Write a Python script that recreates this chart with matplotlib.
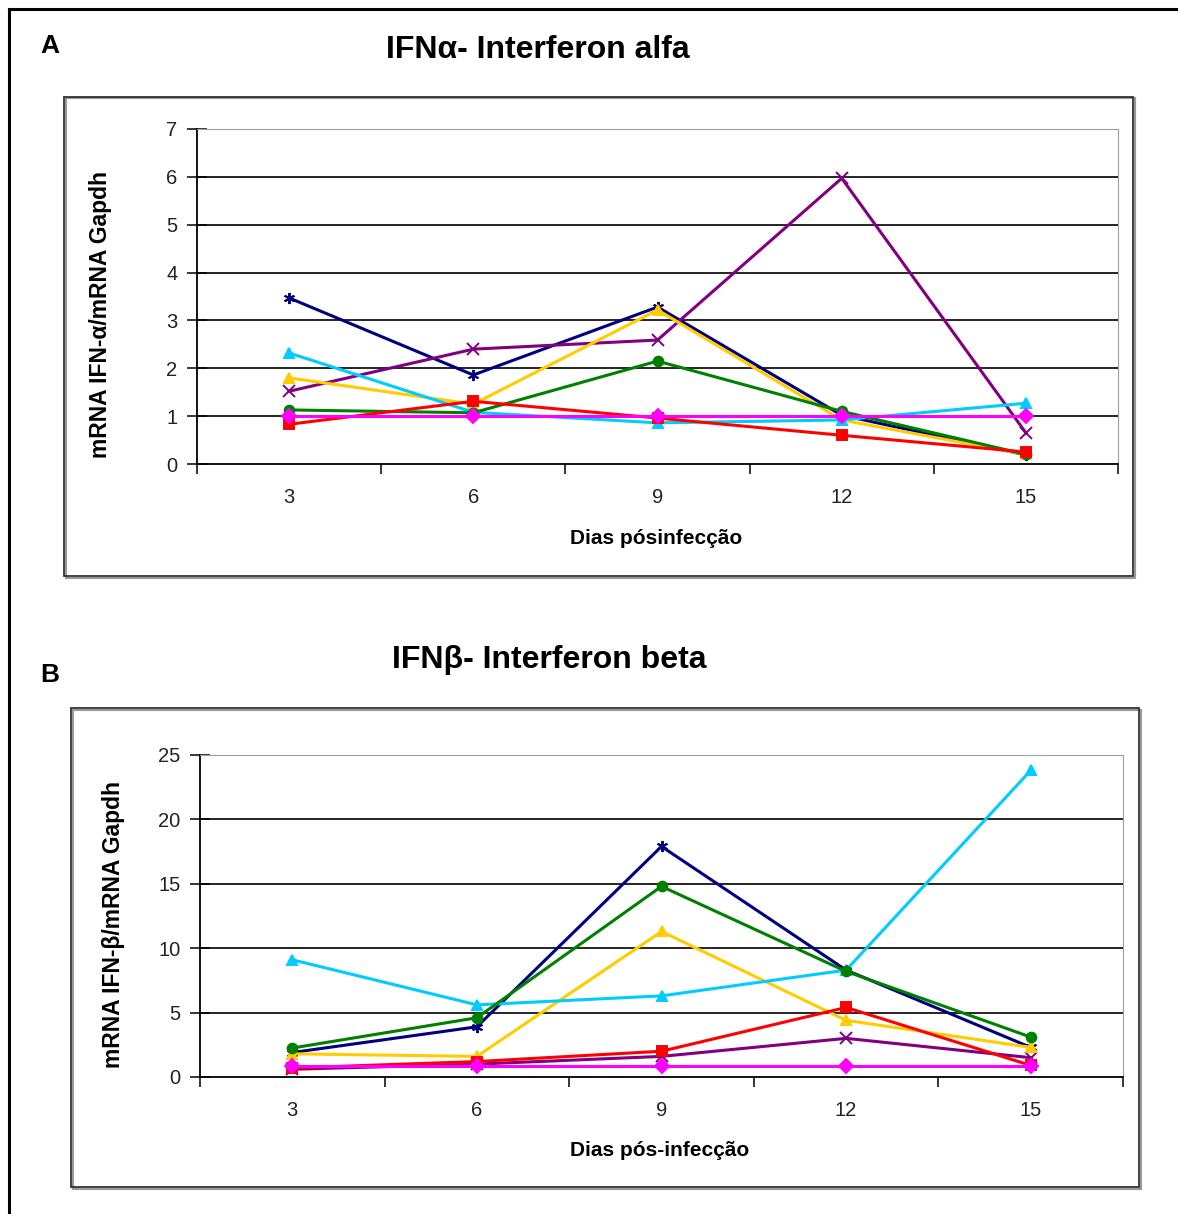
import matplotlib
matplotlib.use('Agg')
import matplotlib.pyplot as plt
from matplotlib.patches import Rectangle
from matplotlib.lines import Line2D

plt.rcParams['font.family'] = ['Liberation Sans', 'DejaVu Sans']

days = [3, 6, 9, 12, 15]
colours = ['#000080', '#800080', '#FFCC00', '#00CCFF', '#008000', '#FF0000', '#FF00FF']
markers = [(6, 2, 0), 'x', '^', '^', 'o', 's', 'D']

# IFN alfa, series in colour order
alfa_navy = [3.47, 1.86, 3.28, 1.02, 0.19]
alfa_purple = [1.52, 2.40, 2.59, 5.97, 0.65]
alfa_yellow = [1.80, 1.25, 3.22, 0.92, 0.20]
alfa_cyan = [2.32, 1.08, 0.86, 0.92, 1.27]
alfa_green = [1.13, 1.07, 2.15, 1.10, 0.20]
alfa_red = [0.83, 1.31, 0.96, 0.60, 0.25]
alfa_magenta = [1.0, 1.0, 1.0, 1.0, 1.0]

# IFN beta
beta_navy = [1.9, 3.9, 17.9, 8.3, 2.3]
beta_purple = [0.6, 1.0, 1.6, 3.0, 1.5]
beta_yellow = [1.8, 1.6, 11.3, 4.4, 2.3]
beta_cyan = [9.1, 5.6, 6.3, 8.3, 23.8]
beta_green = [2.25, 4.6, 14.8, 8.2, 3.1]
beta_red = [0.7, 1.2, 2.0, 5.4, 0.9]
beta_magenta = [0.85, 0.85, 0.85, 0.85, 0.85]

alfa = [alfa_navy, alfa_purple, alfa_yellow, alfa_cyan, alfa_green, alfa_red, alfa_magenta]
beta = [beta_navy, beta_purple, beta_yellow, beta_cyan, beta_green, beta_red, beta_magenta]

W, H = 1178, 1214
fig = plt.figure(figsize=(W / 100, H / 100), dpi=100)


def box(x0, y0, x1, y1):
    # pixel box from top-left to figure fraction
    return [x0 / W, 1 - y1 / H, (x1 - x0) / W, (y1 - y0) / H]


def ftext(x, y, s, **kw):
    fig.text(x / W, 1 - y / H, s, ha='center', va='center', fontweight='bold', **kw)


# outer frame (left + top)
fig.add_artist(Line2D([9 / W, 9 / W], [0, 1 - 9 / H], color='black', lw=2.2))
fig.add_artist(Line2D([9 / W, 1], [1 - 9 / H, 1 - 9 / H], color='black', lw=2.2))


def chart(series, plot_px, frame_px, ymax, ystep):
    b = box(*frame_px)
    fig.add_artist(Rectangle((b[0] + 1.5 / W, b[1] - 1.5 / H), b[2], b[3], transform=fig.transFigure,
                             fill=False, edgecolor='#999999', lw=1.5))
    fig.add_artist(Rectangle((b[0], b[1]), b[2], b[3], transform=fig.transFigure,
                             fill=False, edgecolor='#333333', lw=1.3))
    ax = fig.add_axes(box(*plot_px))
    for vals, c, m in zip(series, colours, markers):
        ms = 8 if m in ('x', (6, 2, 0)) else 7
        ax.plot(days, vals, color=c, lw=2.2, marker=m, ms=ms, mew=1.4, mfc=c, mec=c, clip_on=False)
    ax.set_xlim(1.5, 16.5)
    ax.set_ylim(0, ymax)
    yt = list(range(0, ymax + 1, ystep))
    ax.set_yticks(yt)
    ax.set_yticklabels([str(v) for v in yt], fontsize=14.5, color='#222222')
    for v in yt[1:]:
        ax.axhline(v, color='black', lw=1.2, zorder=0.5)
    ax.set_xticks([1.5, 4.5, 7.5, 10.5, 13.5, 16.5])
    ax.set_xticklabels([])
    ax.set_xticks(days, minor=True)
    ax.set_xticklabels([str(d) for d in days], minor=True, fontsize=14.5, color='#222222')
    ax.tick_params(axis='x', which='major', direction='out', length=7, width=1.1)
    ax.tick_params(axis='x', which='minor', length=0, pad=17)
    ax.tick_params(axis='y', direction='inout', length=14, width=1.1, pad=7)
    ax.spines['left'].set_color('black')
    ax.spines['bottom'].set_color('black')
    ax.spines['left'].set_linewidth(1.3)
    ax.spines['bottom'].set_linewidth(1.3)
    ax.spines['top'].set_color('#a0a0a0')
    ax.spines['right'].set_color('#a0a0a0')
    return ax


chart(alfa, (197, 129, 1118, 464), (64, 97, 1133, 576), 7, 1)
ftext(50, 46, 'A', fontsize=19)
ftext(538, 50, 'IFNα- Interferon alfa', fontsize=23)
ftext(101, 314, 'mRNA IFN-α/mRNA Gapdh', fontsize=16.5, rotation=90)
ftext(656, 538, 'Dias pósinfecção', fontsize=15)

chart(beta, (200, 755, 1123, 1077), (71, 708, 1139, 1187), 25, 5)
ftext(50, 675, 'B', fontsize=19)
ftext(549, 660, 'IFNβ- Interferon beta', fontsize=23)
ftext(114, 924, 'mRNA IFN-β/mRNA Gapdh', fontsize=16.5, rotation=90)
ftext(660, 1150, 'Dias pós-infecção', fontsize=15)

fig.savefig('out.png', dpi=100)
